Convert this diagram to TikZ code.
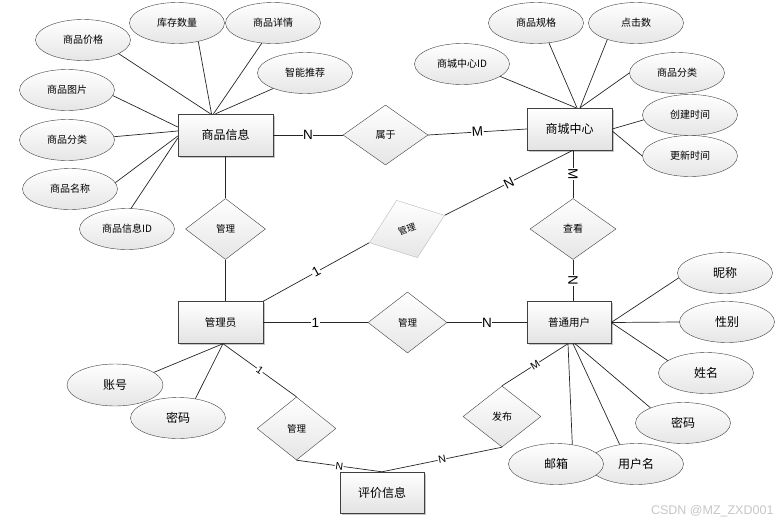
\documentclass[tikz,border=0pt]{standalone}
\usepackage{fontspec}
\setmainfont{Noto Sans CJK SC}
\newfontfamily\latinfont{Liberation Sans}
\usepackage{tikz}
\usetikzlibrary{shapes.geometric, shadows}

\begin{document}
\begin{tikzpicture}[x=1pt, y=-1pt,
	entity/.style={draw=gray!50!black, rectangle, minimum width=85pt, minimum height=42pt, inner sep=0pt, top color=white, bottom color=gray!22, general shadow={fill=gray!45, shadow xshift=1.5pt, shadow yshift=-1.5pt}, font=\fontsize{12}{14}\selectfont},
	attr/.style={draw=gray!50!black, ellipse, minimum width=95pt, minimum height=41pt, inner sep=0pt, top color=white, bottom color=gray!20, font=\fontsize{10}{12}\selectfont},
	bigattr/.style={attr, font=\fontsize{12}{14}\selectfont},
	rel/.style={draw=gray!50!black, diamond, minimum width=80pt, minimum height=61pt, inner sep=0pt, top color=white, bottom color=gray!20, font=\fontsize{10}{12}\selectfont},
	card/.style={fill=white, inner sep=0.6pt, sloped, font=\latinfont\fontsize{13.5}{14}\selectfont},
	smallcard/.style={card, font=\latinfont\fontsize{10.5}{11}\selectfont},
	link/.style={draw=gray!30!black, line width=0.7pt}]
	\useasboundingbox (0,0) rectangle (782,525);
	% entities
	\node[entity, minimum width=95pt] (goods) at (225.5,135) {商品信息};
	\node[entity] (mall) at (569.5,129) {商城中心};
	\node[entity, font=\fontsize{10.5}{12}\selectfont] (admin) at (220.5,322.5) {管理员};
	\node[entity, minimum width=84pt, font=\fontsize{10.5}{12}\selectfont] (user) at (569,322.5) {普通用户};
	\node[entity, minimum width=84pt, minimum height=41pt] (review) at (382,492.5) {评价信息};
	% relations
	\node[rel, minimum width=85pt, minimum height=60pt] (belong) at (385.5,135) {属于};
	\node[rel, font=\fontsize{9.5}{11}\selectfont] (manage1) at (225.5,229) {管理};
	\node[rel, rotate=20, draw=gray!55, font=\fontsize{9}{10}\selectfont] (manage2) at (407,229) {管理};
	\node[rel, minimum width=86pt] (view) at (573,229) {查看};
	\node[rel, minimum width=79pt, font=\fontsize{9.5}{11}\selectfont] (manage3) at (407.5,322.5) {管理};
	\node[rel, minimum width=79pt, minimum height=63pt, font=\fontsize{9.5}{11}\selectfont] (manage4) at (296.5,428.5) {管理};
	\node[rel, minimum width=78pt] (publish) at (502,416.5) {发布};
	% attributes of goods
	\node[attr] (price) at (83,40) {商品价格};
	\node[attr] (stock) at (177,23) {库存数量};
	\node[attr] (detail) at (273,23) {商品详情};
	\node[attr] (recommend) at (305,73) {智能推荐};
	\node[attr] (picture) at (67,90) {商品图片};
	\node[attr] (category) at (67,140) {商品分类};
	\node[attr] (gname) at (70,189) {商品名称};
	\node[attr] (gid) at (127,229) {商品信息ID};
	% attributes of mall
	\node[attr] (mallid) at (462,64) {商城中心ID};
	\node[attr] (spec) at (536,23) {商品规格};
	\node[attr] (clicks) at (636,23) {点击数};
	\node[attr] (mcat) at (677,73) {商品分类};
	\node[attr] (created) at (690,115) {创建时间};
	\node[attr] (updated) at (690,156) {更新时间};
	% attributes of admin
	\node[bigattr, minimum width=96pt, minimum height=42pt] (account) at (115,385) {账号};
	\node[bigattr] (apwd) at (178,418) {密码};
	% attributes of user
	\node[bigattr] (nick) at (725,273) {昵称};
	\node[bigattr] (gender) at (727,322) {性别};
	\node[bigattr] (realname) at (706,373) {姓名};
	\node[bigattr] (upwd) at (683,423) {密码};
	\node[bigattr] (uname) at (636,464) {用户名};
	\node[bigattr] (email) at (556,464) {邮箱};
	% attribute links
	\draw[link] (price.-21) -- ([xshift=-15pt]goods.north);
	\draw[link] (stock.-41) -- ([xshift=-14pt]goods.north);
	\draw[link] (detail.-119) -- ([xshift=-12pt]goods.north);
	\draw[link] (recommend.-154) -- ([xshift=-10pt]goods.north);
	\draw[link] (picture.-7) -- ([yshift=8pt]goods.west);
	\draw[link] (category.4) -- ([yshift=4pt]goods.west);
	\draw[link] (gname.8) -- ([yshift=-1pt]goods.west);
	\draw[link] (gid.79) -- ([yshift=-3pt]goods.west);
	\draw[link] (mallid.-18) -- ([xshift=6.5pt]mall.north);
	\draw[link] (spec.-57) -- ([xshift=7.5pt]mall.north);
	\draw[link] (clicks.-150) -- ([xshift=10.5pt]mall.north);
	\draw[link] (mcat.180) -- ([xshift=10.5pt]mall.north);
	\draw[link] (created.-174) -- (mall.east);
	\draw[link] (updated.180) -- ([yshift=-2pt]mall.east);
	\draw[link] (account.18) -- ([xshift=2.5pt]admin.south);
	\draw[link] (apwd.48) -- ([xshift=2.5pt]admin.south);
	\draw[link] (nick.-174) -- (user.east);
	\draw[link] (gender.180) -- (user.east);
	\draw[link] (realname.162) -- (user.east);
	\draw[link] (upwd.155) -- ([xshift=6pt]user.south);
	\draw[link] (uname.130) -- ([xshift=4pt]user.south);
	\draw[link] (email.50) -- ([xshift=-1pt]user.south);
	% relation links
	\draw[link] (goods.east) -- node[card] {N} (belong.west);
	\draw[link] (belong.east) -- node[card] {M} (mall.west);
	\draw[link] (goods.south) -- (manage1.north);
	\draw[link] (manage1.south) -- ([xshift=5pt]admin.north);
	\draw[link] (admin.north east) -- node[card] {1} (manage2.west);
	\draw[link] (manage2.east) -- node[card] {N} ([xshift=3.5pt]mall.south);
	\draw[link] ([xshift=3.5pt]mall.south) -- node[card] {M} (view.north);
	\draw[link] (view.south) -- node[card] {N} ([xshift=4pt]user.north);
	\draw[link] (admin.east) -- node[card] {1} (manage3.west);
	\draw[link] (manage3.east) -- node[card] {N} (user.west);
	\draw[link] ([xshift=2.5pt]admin.south) -- node[smallcard] {1} (manage4.north);
	\draw[link] (manage4.south) -- node[smallcard] {N} (review.north);
	\draw[link] ([xshift=-1pt]user.south) -- node[smallcard] {M} (publish.north);
	\draw[link] (publish.south) -- node[smallcard] {N} (review.north);
	\node[anchor=east, text=gray!45, font=\latinfont\fontsize{12.5}{14}\selectfont] (mark) at (777,511) {CSDN @MZ\_ZXD001};
\end{tikzpicture}
\end{document}
